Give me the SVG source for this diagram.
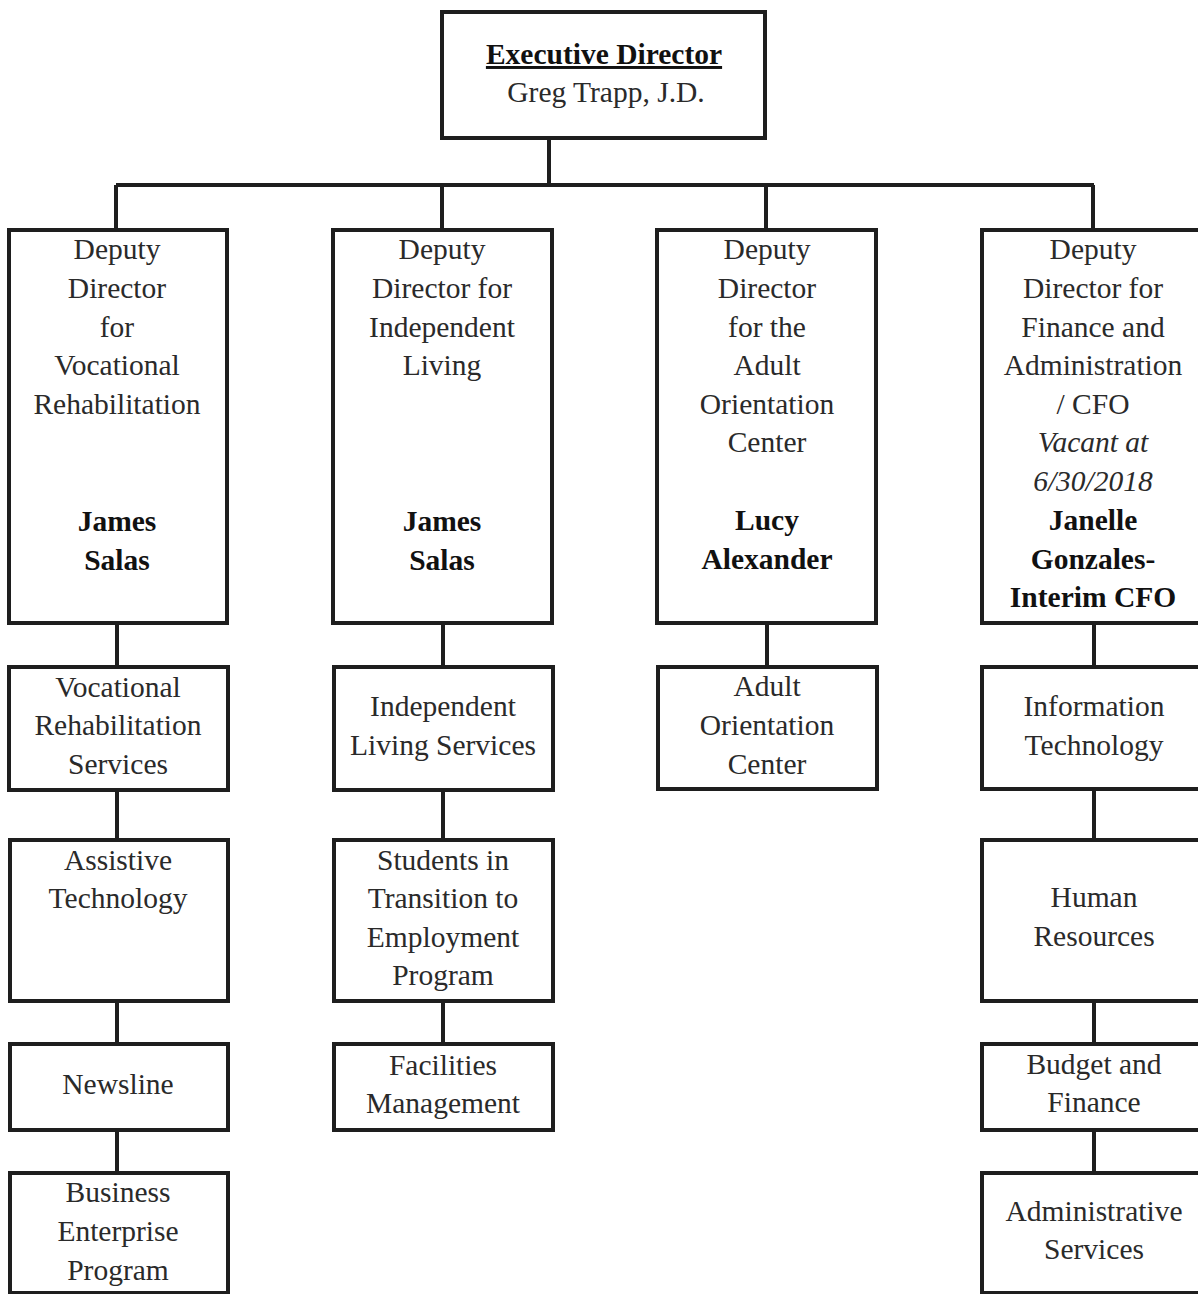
<svg xmlns="http://www.w3.org/2000/svg" width="1198" height="1294" viewBox="0 0 1198 1294">
<style>
.box{fill:#fff;stroke:#1e1e1e;stroke-width:4}
.con{stroke:#1e1e1e;stroke-width:4;fill:none}
text{font-family:"Liberation Serif","Times New Roman",serif;font-size:29.5px;fill:#2a2a2a;text-anchor:middle}
.b{font-weight:bold;fill:#111}
.i{font-style:italic}
</style>
<rect width="1198" height="1294" fill="#fff"/>
<g id="connectors">
<path class="con" d="M549 138V185M116 185H1094M116 185V240M442 185V240M766 185V240M1093 185V240"/>
<path class="con" d="M117 620V1180M443 620V1050M767 620V670M1094 620V1180"/>
</g>
<g id="executive"><rect class="box" x="442" y="12" width="323" height="126"/>
<text class="b" x="604" y="64" text-decoration="underline">Executive Director</text>
<text x="606" y="102">Greg Trapp, J.D.</text></g>
<g id="dd-vr"><rect class="box" x="9" y="230" width="218" height="393"/>
<text x="117" y="259">Deputy</text><text x="117" y="298">Director</text><text x="117" y="337">for</text><text x="117" y="375">Vocational</text><text x="117" y="414">Rehabilitation</text>
<text class="b" x="117" y="531">James</text><text class="b" x="117" y="570">Salas</text></g>
<g id="dd-il"><rect class="box" x="333" y="230" width="219" height="393"/>
<text x="442" y="259">Deputy</text><text x="442" y="298">Director for</text><text x="442" y="337">Independent</text><text x="442" y="375">Living</text>
<text class="b" x="442" y="531">James</text><text class="b" x="442" y="570">Salas</text></g>
<g id="dd-aoc"><rect class="box" x="657" y="230" width="219" height="393"/>
<text x="767" y="259">Deputy</text><text x="767" y="298">Director</text><text x="767" y="337">for the</text><text x="767" y="375">Adult</text><text x="767" y="414">Orientation</text><text x="767" y="452">Center</text>
<text class="b" x="767" y="530">Lucy</text><text class="b" x="767" y="569">Alexander</text></g>
<g id="dd-fa"><rect class="box" x="982" y="230" width="222" height="393"/>
<text x="1093" y="259">Deputy</text><text x="1093" y="298">Director for</text><text x="1093" y="337">Finance and</text><text x="1093" y="375">Administration</text><text x="1093" y="414">/ CFO</text>
<text class="i" x="1093" y="452">Vacant at</text><text class="i" x="1093" y="491">6/30/2018</text>
<text class="b" x="1093" y="530">Janelle</text><text class="b" x="1093" y="569">Gonzales-</text><text class="b" x="1093" y="607">Interim CFO</text></g>
<g id="vrs"><rect class="box" x="9" y="667" width="219" height="123"/>
<text x="118" y="697">Vocational</text><text x="118" y="735">Rehabilitation</text><text x="118" y="774">Services</text></g>
<g id="ils"><rect class="box" x="334" y="667" width="219" height="123"/>
<text x="443" y="716">Independent</text><text x="443" y="755">Living Services</text></g>
<g id="aoc"><rect class="box" x="658" y="667" width="219" height="122"/>
<text x="767" y="696">Adult</text><text x="767" y="735">Orientation</text><text x="767" y="774">Center</text></g>
<g id="it"><rect class="box" x="982" y="667" width="222" height="122"/>
<text x="1094" y="716">Information</text><text x="1094" y="755">Technology</text></g>
<g id="at"><rect class="box" x="10" y="840" width="218" height="161"/>
<text x="118" y="870">Assistive</text><text x="118" y="908">Technology</text></g>
<g id="step"><rect class="box" x="334" y="840" width="219" height="161"/>
<text x="443" y="870">Students in</text><text x="443" y="908">Transition to</text><text x="443" y="947">Employment</text><text x="443" y="985">Program</text></g>
<g id="hr"><rect class="box" x="982" y="840" width="222" height="161"/>
<text x="1094" y="907">Human</text><text x="1094" y="946">Resources</text></g>
<g id="newsline"><rect class="box" x="10" y="1044" width="218" height="86"/>
<text x="118" y="1094">Newsline</text></g>
<g id="fm"><rect class="box" x="334" y="1044" width="219" height="86"/>
<text x="443" y="1075">Facilities</text><text x="443" y="1113">Management</text></g>
<g id="bf"><rect class="box" x="982" y="1044" width="222" height="86"/>
<text x="1094" y="1074">Budget and</text><text x="1094" y="1112">Finance</text></g>
<g id="bep"><rect class="box" x="10" y="1173" width="218" height="120"/>
<text x="118" y="1202">Business</text><text x="118" y="1241">Enterprise</text><text x="118" y="1280">Program</text></g>
<g id="as"><rect class="box" x="982" y="1173" width="222" height="120"/>
<text x="1094" y="1221">Administrative</text><text x="1094" y="1259">Services</text></g>
</svg>
